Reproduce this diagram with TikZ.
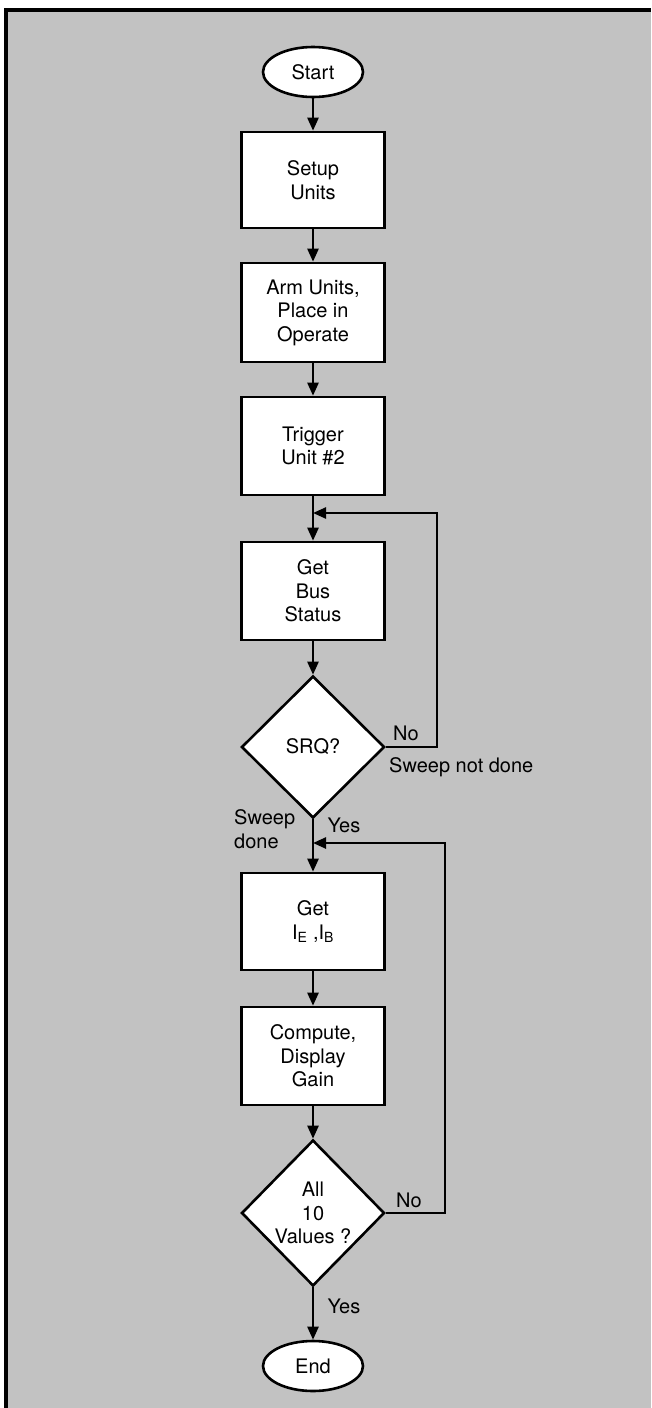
\documentclass[tikz,border=0pt]{standalone}
\usepackage{fontspec}
\setmainfont{TeX Gyre Heros}
\usetikzlibrary{shapes.geometric,arrows.meta}
\begin{document}
\begin{tikzpicture}[x=1pt,y=-1pt,
  every node/.style={font=\fontsize{20}{23.5}\selectfont},
  box/.style={draw=black,fill=white,line width=2.6pt,minimum width=143pt,align=center,inner sep=0pt},
  term/.style={draw=black,fill=white,ellipse,line width=2.6pt,minimum width=100pt,minimum height=50pt,inner sep=0pt},
  dec/.style={draw=black,fill=white,diamond,aspect=1,line width=2.6pt,minimum width=143pt,minimum height=142pt,inner sep=0pt,align=center},
  flow/.style={line width=2.4pt,-{Triangle[length=13pt,width=11pt]}},
  lbl/.style={inner sep=0pt,align=left}]
\useasboundingbox (0,0) rectangle (651,1408);
\fill[white] (0,0) rectangle (651,1408);
\fill[black!24] (8,12) rectangle (651,1408);
\draw[line width=4pt,line join=miter] (6,1408) -- (6,10) -- (651,10);

\node[term] (start) at (313,72) {Start};
\node[box,minimum height=96pt] (setup) at (313,180) {Setup\\Units};
\node[box,minimum height=99pt] (arm) at (313,312.5) {Arm Units,\\Place in\\Operate};
\node[box,minimum height=98pt] (trig) at (313,446) {Trigger\\Unit \#2};
\node[box,minimum height=98pt] (bus) at (313,591) {Get\\Bus\\Status};
\node[dec] (srq) at (313,747) {SRQ?};
\node[box,minimum height=97pt] (ie) at (313,921.5) {Get\\I\textsubscript{E} ,I\textsubscript{B}};
\node[box,minimum height=98pt] (comp) at (313,1056) {Compute,\\Display\\Gain};
\node[dec,minimum height=146pt] (all) at (313,1213) {All\\10\\Values ?};
\node[term] (end) at (313,1366) {End};

\coordinate (j1) at (313,513);
\coordinate (j2) at (313,843);
\coordinate (c1) at (437,513);
\coordinate (c2) at (445,843);

\draw[flow] (start) -- (setup);
\draw[flow] (setup) -- (arm);
\draw[flow] (arm) -- (trig);
\draw[flow] (trig) -- (bus);
\draw[flow] (bus) -- (srq);
\draw[flow] (srq) -- (ie);
\draw[flow] (ie) -- (comp);
\draw[flow] (comp) -- (all);
\draw[flow] (all) -- (end);
\draw[flow] (srq.east) -| (c1) -- (j1);
\draw[flow] (all.east) -| (c2) -- (j2);

\node[lbl] (no1) at (406,733) {No};
\node[lbl,anchor=west] (snd) at (389,767) {Sweep not done};
\node[lbl,anchor=west] (sd) at (234,829) {Sweep\\done};
\node[lbl] (yes1) at (344,825) {Yes};
\node[lbl] (no2) at (409,1200) {No};
\node[lbl] (yes2) at (344,1306) {Yes};
\end{tikzpicture}
\end{document}
